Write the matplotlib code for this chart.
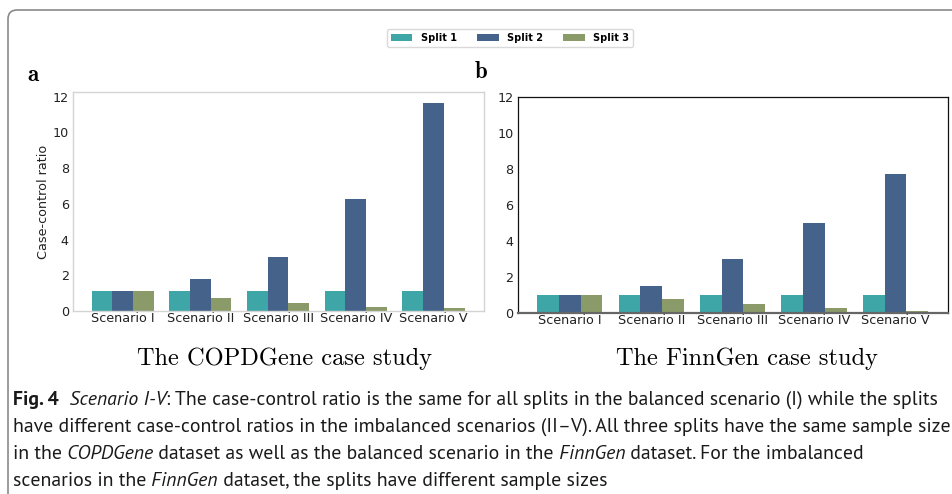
import matplotlib
matplotlib.use('Agg')
import matplotlib.pyplot as plt
import numpy as np
from matplotlib.patches import FancyBboxPatch, Patch
from matplotlib.transforms import IdentityTransform
from matplotlib import font_manager as fm

# ---------------- data ----------------
scenarios = ['Scenario I', 'Scenario II', 'Scenario III', 'Scenario IV', 'Scenario V']
splits = ['Split 1', 'Split 2', 'Split 3']
copd_split1 = [1.1, 1.1, 1.1, 1.1, 1.1]
copd_split2 = [1.1, 1.77, 3.02, 6.29, 11.65]
copd_split3 = [1.1, 0.71, 0.45, 0.24, 0.17]
finn_split1 = [1.0, 1.0, 1.0, 1.0, 1.0]
finn_split2 = [1.0, 1.5, 3.0, 5.0, 7.7]
finn_split3 = [1.0, 0.76, 0.5, 0.26, 0.1]
yticks = [0, 2, 4, 6, 8, 10, 12]
ylabel = 'Case-control ratio'
titles = ['The COPDGene case study', 'The FinnGen case study']
panel_labels = ['a', 'b']
colors = ['#3fa6a7', '#45638a', '#8b9a69']

W, H = 952, 494
fig = plt.figure(figsize=(W / 100, H / 100), dpi=100)
renderer = fig.canvas.get_renderer()


def rect(x0, y0, x1, y1):
    return [x0 / W, 1 - y1 / H, (x1 - x0) / W, (y1 - y0) / H]


# border box
border = FancyBboxPatch((8, -80), 1000, 564, boxstyle='round,pad=0,rounding_size=9',
                        transform=IdentityTransform(), facecolor='none',
                        edgecolor='#8a8a8a', lw=1.2)
fig.add_artist(border)

ax1 = fig.add_axes(rect(73, 92.3, 484, 311))
ax2 = fig.add_axes(rect(517.7, 96.7, 948.3, 312.7))

x = np.arange(len(scenarios))
bw = 0.8 / 3
for ax, series, ytop in [(ax1, [copd_split1, copd_split2, copd_split3], 12.25),
                         (ax2, [finn_split1, finn_split2, finn_split3], 12.0)]:
    for i, vals in enumerate(series):
        ax.bar(x + (i - 1) * bw, vals, width=bw, color=colors[i], edgecolor='none', zorder=2)
    ax.set_xlim(-0.64, 4.65)
    ax.set_ylim(0, ytop)
    ax.set_yticks(yticks)
    ax.set_xticks(x)
    ax.set_xticklabels(scenarios)
    ax.tick_params(axis='both', length=0, labelsize=9.2, colors='#222222')
    ax.tick_params(axis='y', pad=3)
    ax.tick_params(axis='x', pad=1)

for sp in ax1.spines.values():
    sp.set_color('#d4d4d4')
    sp.set_linewidth(1.0)
for sp in ax2.spines.values():
    sp.set_color('#111111')
    sp.set_linewidth(0.9)
ax2.spines['bottom'].set_color('#666666')
ax2.spines['bottom'].set_linewidth(1.6)

ax1.set_ylabel(ylabel, fontsize=9.2, labelpad=2, color='#222222')

# legend
handles = [Patch(facecolor=c, edgecolor='none') for c in colors]
fig.legend(handles, splits, loc='center', bbox_to_anchor=(510 / W, 1 - 38 / H), ncol=3,
           prop={'weight': 'bold', 'size': 7}, frameon=True, edgecolor='#d0d0d0',
           fancybox=True, handlelength=2.2, handleheight=0.75, handletextpad=0.85,
           columnspacing=2.1, borderpad=0.45)

# panel labels
fig.text(27 / W, 1 - 81 / H, panel_labels[0], family='cmb10', fontsize=16.5, va='baseline')
fig.text(475 / W, 1 - 78 / H, panel_labels[1], family='cmb10', fontsize=16.5, va='baseline')

# subtitles (size fitted so the FinnGen title spans ~262 px)
probe = fig.text(0, 0, titles[1], family='cmr10', fontsize=12)
tsize = 12 * 262 / probe.get_window_extent(renderer=renderer).width
probe.remove()
fig.text(137 / W, 1 - 365 / H, titles[0], family='cmr10', fontsize=tsize, ha='left', va='baseline')
fig.text(616 / W, 1 - 365 / H, titles[1], family='cmr10', fontsize=tsize, ha='left', va='baseline')

# caption
families = {}
for f in fm.fontManager.ttflist:
    if f.style == 'normal' and f.weight in (400, 'normal', 'regular'):
        families.setdefault(f.name, True)
capfont = 'DejaVu Sans'
for cand in ['Myriad Pro', 'Source Sans 3', 'Source Sans Pro', 'PT Sans', 'Fira Sans',
             'Asap', 'Open Sans', 'Asap Condensed']:
    if cand in families:
        capfont = cand
        break

cap_lines = [
    [('Fig. 4', 'bold', 'normal'), ('  Scenario I-V', 'normal', 'italic'),
     (': The case-control ratio is the same for all splits in the balanced scenario (I) while the splits', 'normal', 'normal')],
    [('have different case-control ratios in the imbalanced scenarios (II\u2013V). All three splits have the same sample size', 'normal', 'normal')],
    [('in the', 'normal', 'normal'), (' COPDGene', 'normal', 'italic'),
     (' dataset as well as the balanced scenario in the', 'normal', 'normal'), (' FinnGen', 'normal', 'italic'),
     (' dataset. For the imbalanced', 'normal', 'normal')],
    [('scenarios in the', 'normal', 'normal'), (' FinnGen', 'normal', 'italic'),
     (' dataset, the splits have different sample sizes', 'normal', 'normal')],
]
probe = fig.text(0, 0, cap_lines[1][0][0], family=capfont, fontsize=12)
pw = probe.get_window_extent(renderer=renderer).width
probe.remove()
capsize = 12 * 936 / pw

baselines = [405, 432, 459, 486]
for segs, yb in zip(cap_lines, baselines):
    xcur = 13
    for s, w, st in segs:
        t = fig.text(xcur / W, 1 - yb / H, s, family=capfont, fontsize=capsize, weight=w,
                     style=st, ha='left', va='baseline', color='#1a1a1a')
        bb = t.get_window_extent(renderer=renderer)
        xcur = bb.x1

fig.savefig('out.png', dpi=100)
